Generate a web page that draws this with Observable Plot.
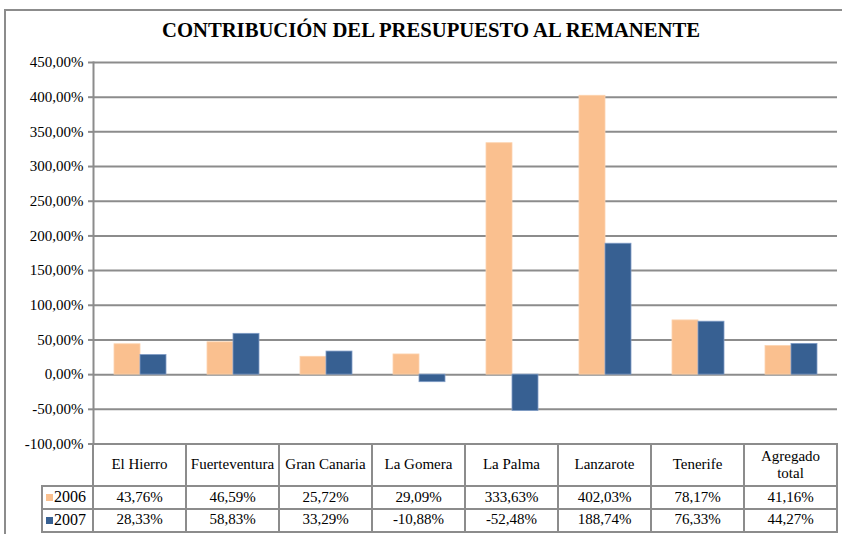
<!DOCTYPE html>
<html>
<head>
<meta charset="utf-8">
<script src="https://cdn.jsdelivr.net/npm/d3@7"></script>
<script src="https://cdn.jsdelivr.net/npm/@observablehq/plot@0.6"></script>
<style>
html, body { margin: 0; padding: 0; background: #fff; overflow: hidden; }
#chart { position: relative; width: 842px; height: 534px; overflow: hidden; font-family: "Liberation Serif", "Times New Roman", serif; color: #000; }
#frame { position: absolute; left: 4px; top: 9px; width: 900px; height: 600px; border: 2px solid #8c8c8c; box-sizing: border-box; }
#title { position: absolute; left: 162px; top: 20px; white-space: nowrap; font-weight: bold; font-size: 20px; line-height: 20px; transform-origin: 0 0; }
#plot { position: absolute; left: 0; top: 0; }
.cell { position: absolute; box-sizing: border-box; border: 2px solid #8c8c8c; display: flex; align-items: center; justify-content: center; text-align: center; font-size: 15px; line-height: 1.15; white-space: pre-line; background: #fff; }
.leg { justify-content: flex-start; padding-left: 3px; font-size: 16px; }
.sw { display: inline-block; width: 7px; height: 7px; margin-right: 1px; }
</style>
</head>
<body>
<div id="chart">
  <div id="frame"></div>
  <div id="plot"></div>
  <div id="title">CONTRIBUCIÓN DEL PRESUPUESTO AL REMANENTE</div>
</div>
<script>
// ---- data ----
const islands = ["El Hierro", "Fuerteventura", "Gran Canaria", "La Gomera", "La Palma", "Lanzarote", "Tenerife", "Agregado total"];
const headerLabels = ["El Hierro", "Fuerteventura", "Gran Canaria", "La Gomera", "La Palma", "Lanzarote", "Tenerife", "Agregado\ntotal"];
const years = ["2006", "2007"];
const values2006 = [43.76, 46.59, 25.72, 29.09, 333.63, 402.03, 78.17, 41.16];
const values2007 = [28.33, 58.83, 33.29, -10.88, -52.48, 188.74, 76.33, 44.27];
const yTicks = [-100, -50, 0, 50, 100, 150, 200, 250, 300, 350, 400, 450];
const yearColors = ["#FAC08F", "#376092"];
const titleText = "CONTRIBUCIÓN DEL PRESUPUESTO AL REMANENTE";

const series = [values2006, values2007];
const data = islands.flatMap((isl, i) => years.map((yr, j) => ({island: isl, year: yr, value: series[j][i]})));
const fmt = v => v.toFixed(2).replace(".", ",") + "%";

const W = 842, H = 534;
const plot = Plot.plot({
  width: W,
  height: H,
  marginTop: 62,
  marginBottom: 90.5,
  marginLeft: 91,
  marginRight: 4,
  style: {background: "transparent", fontFamily: "'Liberation Serif', 'Times New Roman', serif", fontSize: "15px", color: "#000", overflow: "visible"},
  fx: {domain: islands, padding: 0, axis: null, label: null},
  x: {domain: years, paddingInner: 0, paddingOuter: 0.73, axis: null},
  y: {domain: [-100, 450], label: null},
  color: {domain: years, range: yearColors},
  marks: [
    Plot.ruleY(yTicks, {stroke: "#8c8c8c", strokeWidth: 2}),
    Plot.barY(data, {fx: "island", x: "year", y: "value", fill: "year", stroke: d => d.year === "2006" ? "#fcd3ae" : "#7f9cc6", strokeWidth: 0.8}),
    Plot.axisY(yTicks, {tickFormat: fmt, tickSize: 5, tickPadding: 5, stroke: "#8c8c8c", strokeWidth: 2, fill: "#000", label: null, fontSize: 15}),
    Plot.frame({anchor: "left", stroke: "#8c8c8c", strokeWidth: 2, facetAnchor: "left"})
  ]
});
document.getElementById("plot").appendChild(plot);

// ---- title fit ----
const title = document.getElementById("title");
title.textContent = titleText;
const tw = title.getBoundingClientRect().width;
title.style.transform = `scaleX(${538 / tw})`;

// ---- data table (positioned with the plot's scales) ----
const fx = plot.scale("fx");
const ys = plot.scale("y");
const bw = fx.bandwidth;
const chart = document.getElementById("chart");
const top0 = ys.apply(-100);
const rowEdges = [top0, top0 + 42.5, top0 + 65, top0 + 88];
function cell(x0, x1, y0, y1, html, cls) {
  const d = document.createElement("div");
  d.className = "cell" + (cls ? " " + cls : "");
  d.style.left = (x0 - 1) + "px";
  d.style.top = (y0 - 1) + "px";
  d.style.width = (x1 - x0 + 2) + "px";
  d.style.height = (y1 - y0 + 2) + "px";
  d.innerHTML = html;
  chart.appendChild(d);
}
islands.forEach((isl, i) => {
  const x0 = fx.apply(isl), x1 = x0 + bw;
  const hd = document.createElement("span");
  cell(x0, x1, rowEdges[0], rowEdges[1], "", "");
  chart.lastChild.textContent = headerLabels[i];
  series.forEach((vals, j) => cell(x0, x1, rowEdges[j + 1], rowEdges[j + 2], fmt(vals[i]), ""));
});
const legX0 = 42, legX1 = fx.apply(islands[0]);
years.forEach((yr, j) => {
  cell(legX0, legX1, rowEdges[j + 1], rowEdges[j + 2],
    `<span class="sw" style="background:${yearColors[j]}"></span>${yr}`, "leg");
});
</script>
</body>
</html>
